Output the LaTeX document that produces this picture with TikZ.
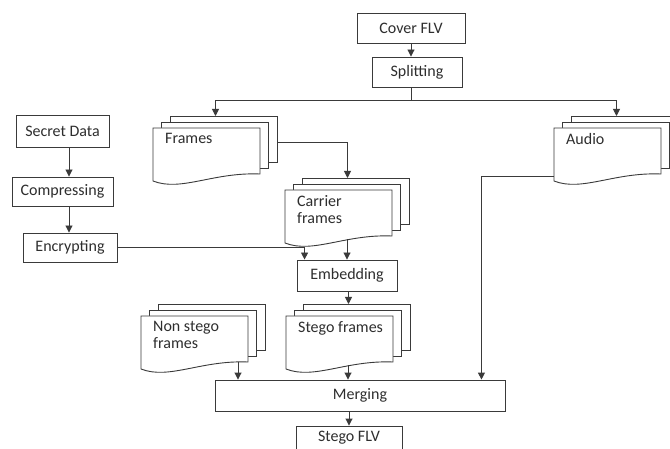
\documentclass[tikz,border=0pt]{standalone}
\usepackage{fontspec}
\setmainfont{Carlito}
\usetikzlibrary{arrows.meta,calc}
\definecolor{linec}{HTML}{3A3A3A}
\definecolor{textc}{HTML}{2E2E2E}
\tikzset{
  box/.style={draw=linec, line width=0.9pt, fill=white, inner sep=0pt,
    font=\fontsize{16}{17}\selectfont, text=textc},
  plain/.style={draw=linec, line width=0.9pt},
  conn/.style={draw=linec, line width=0.9pt, -{Triangle[length=7pt,width=7pt]}},
  doctext/.style={anchor=north west, align=left, inner sep=0pt,
    font=\fontsize{16}{17}\selectfont, text=textc}
}
% multi-document: #1 name, #2 left, #3 top, #4 text
\newcommand{\mdoc}[4]{%
  \draw[plain, fill=white] (#2+17,#3-12) rectangle (#2+124,#3+34);
  \draw[plain, fill=white] (#2+8.5,#3-6) rectangle (#2+115.5,#3+40);
  \draw[plain, fill=white] (#2,#3) -- (#2+107,#3) -- (#2+107,#3+46)
     .. controls (#2+60,#3+44) and (#2+28,#3+64) .. (#2,#3+53) -- cycle;
  \node[doctext] (#1-txt) at (#2+12,#3+5) {#4};
  \coordinate (#1-top) at (#2+62.5,#3-12);
  \coordinate (#1-bot) at (#2+62,#3+49.5);
  \coordinate (#1-botr) at (#2+97,#3+46);
  \coordinate (#1-right) at (#2+124,#3+14);
  \coordinate (#1-left) at (#2,#3+48);
}
\begin{document}
\begin{tikzpicture}[x=1pt,y=-1pt]
\useasboundingbox (0,0) rectangle (670,449);
\clip (0,0) rectangle (670,449);
\fill[white] (0,0) rectangle (670,449);

% boxes
\node[box, minimum width=108pt, minimum height=30pt] (cover) at (411,28) {Cover FLV};
\node[box, minimum width=90pt, minimum height=30pt] (split) at (417,72) {Splitting};
\node[box, minimum width=93pt, minimum height=32pt] (secret) at (62.5,131) {Secret Data};
\node[box, minimum width=101pt, minimum height=29pt] (compress) at (62.5,191.5) {Compressing};
\node[box, minimum width=94pt, minimum height=29pt] (encrypt) at (70,247.5) {Encrypting};
\node[box, minimum width=100pt, minimum height=31pt] (embed) at (347,275.5) {Embedding};
\node[box, minimum width=290pt, minimum height=31pt] (merge) at (360,395.5) {Merging};
\node[box, minimum width=106pt, minimum height=30pt, text height=11pt, text depth=11pt] (stegoflv) at (349,441) {Stego FLV};

% documents
\mdoc{frames}{153}{128}{Frames}
\mdoc{audio}{554}{128}{Audio}
\mdoc{carrier}{285}{190}{Carrier\\frames}
\mdoc{nonstego}{141}{316}{Non stego\\frames}
\mdoc{stego}{286}{316}{Stego frames}

% connectors
\coordinate (lx) at (69,0);
\coordinate (br) at (0,100);
\draw[conn] (cover.south) -- (cover.south |- split.north);
\draw[plain] (split.south -| cover.south) -- (cover.south |- br);
\draw[conn] (cover.south |- br) -| (frames-top);
\draw[conn] (cover.south |- br) -| (audio-top);
\draw[conn] (frames-right) -| (carrier-top);
\draw[conn] (carrier-bot) -- (carrier-bot |- embed.north);
\draw[conn] (secret.south -| lx) -- (compress.north -| lx);
\draw[conn] (compress.south -| lx) -- (encrypt.north -| lx);
\draw[conn] (encrypt.east) -| ($(embed.north west)+(8,0)$);
\draw[conn] (embed.south -| stego-top) -- (stego-top);
\draw[conn] (stego-bot) -- (stego-bot |- merge.north);
\draw[conn] (nonstego-botr) -- (nonstego-botr |- merge.north);
\draw[conn] (audio-left) -| ($(merge.north east)+(-24,0)$);
\draw[conn] (merge.south -| stegoflv.north) -- (stegoflv.north);
\end{tikzpicture}
\end{document}
